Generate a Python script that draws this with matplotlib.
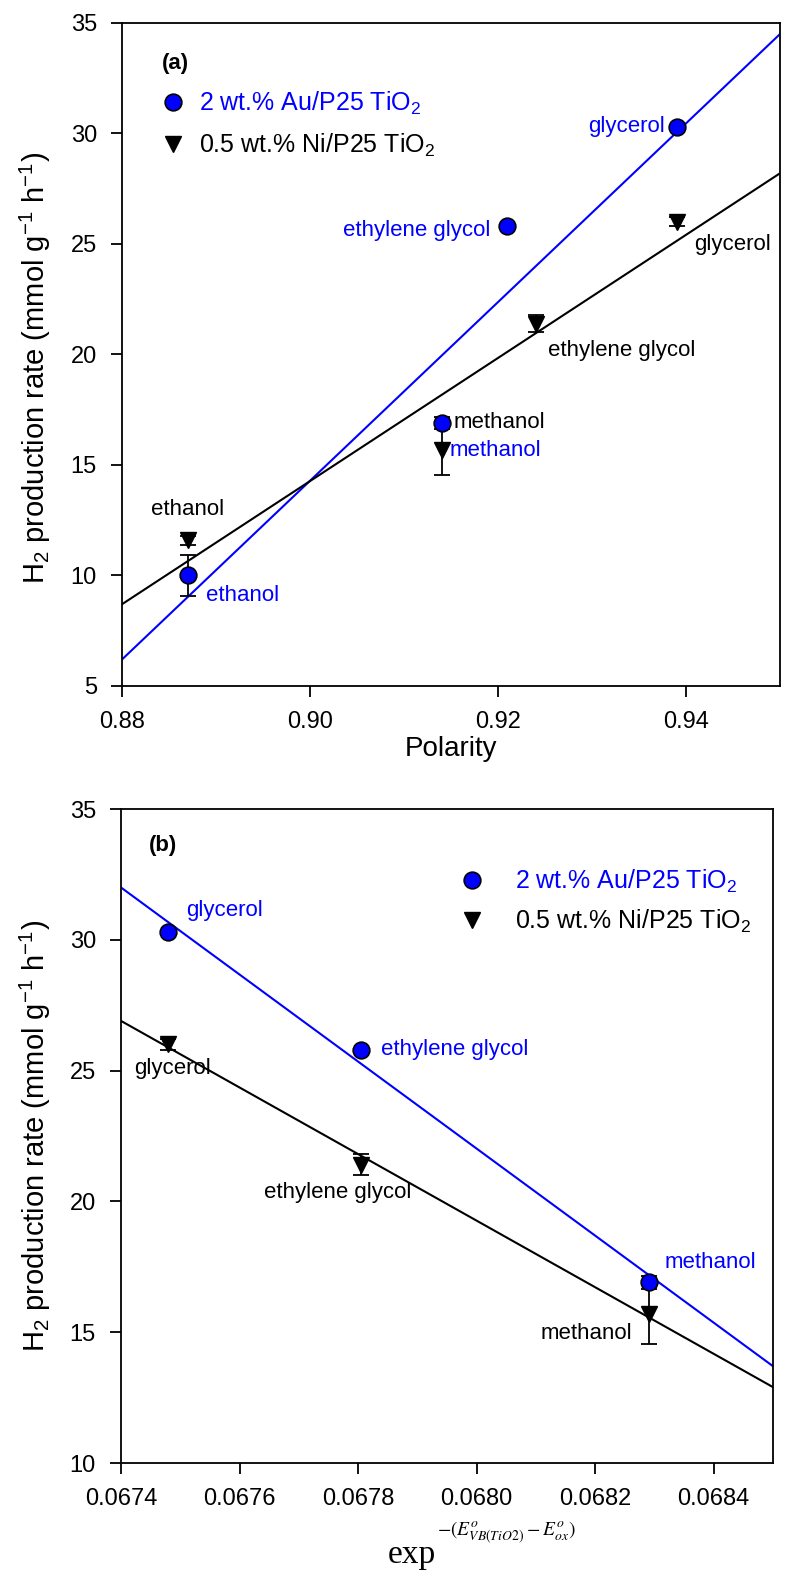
import numpy as np
import matplotlib
matplotlib.use('Agg')
import matplotlib.pyplot as plt

plt.rcParams['font.family'] = ['Liberation Sans', 'DejaVu Sans']
plt.rcParams['mathtext.fontset'] = 'custom'
plt.rcParams['mathtext.rm'] = 'Liberation Sans'
plt.rcParams['mathtext.it'] = 'Liberation Sans:italic'

solvents = ['ethanol', 'methanol', 'ethylene glycol', 'glycerol']

# panel (a): polarity
pol_au = [0.887, 0.914, 0.921, 0.939]
pol_ni = [0.887, 0.914, 0.924, 0.939]
rate_au = [10.0, 16.9, 25.8, 30.3]
rate_ni = [11.6, 15.7, 21.4, 26.0]
err_au = [0.95, 0.25, 0.0, 0.0]
err_ni = [0.2, 1.15, 0.4, 0.2]
fit_a_x = [0.88, 0.95]
fit_a_au = [6.2, 34.5]
fit_a_ni = [8.7, 28.2]

# panel (b): exp(-(E_VB - E_ox)), no ethanol
expo_b = [0.06748, 0.067805, 0.068290]
rate_au_b = [30.3, 25.8, 16.9]
rate_ni_b = [26.0, 21.4, 15.7]
err_au_b = [0.0, 0.0, 0.25]
err_ni_b = [0.2, 0.4, 1.15]
solv_b = ['glycerol', 'ethylene glycol', 'methanol']
fit_b_x = [0.0674, 0.0685]
fit_b_au = [32.0, 13.7]
fit_b_ni = [26.9, 12.9]

blue = '#0000ff'
label_au = '2 wt.% Au/P25 TiO$_2$'
label_ni = '0.5 wt.% Ni/P25 TiO$_2$'
ylab = 'H$_2$ production rate (mmol g$^{-1}$ h$^{-1}$)'

fig = plt.figure(figsize=(7.86, 15.76), dpi=100)
W, H = 786, 1576
ax1 = fig.add_axes([122/W, 1-686/H, (780-122)/W, (686-23)/H])
ax2 = fig.add_axes([121/W, 1-1463/H, (773-121)/W, (1463-809)/H])


def style(ax):
    for s in ax.spines.values():
        s.set_linewidth(1.3)
    ax.tick_params(direction='out', length=8, width=1.3, labelsize=17,
                   top=False, right=False, pad=10)


def draw(ax, x_au, x_ni, y_au, y_ni, e_au, e_ni):
    ax.errorbar(x_au, y_au, yerr=e_au, fmt='none', ecolor='black',
                elinewidth=1.3, capsize=6, capthick=1.3, zorder=3)
    ax.errorbar(x_ni, y_ni, yerr=e_ni, fmt='none', ecolor='black',
                elinewidth=1.3, capsize=6, capthick=1.3, zorder=3)
    h_au, = ax.plot(x_au, y_au, 'o', ms=12, mfc=blue, mec='black', mew=1.2,
                    zorder=4, label=label_au)
    h_ni, = ax.plot(x_ni, y_ni, 'v', ms=12, mfc='black', mec='black',
                    zorder=4, label=label_ni)
    return h_au, h_ni


def annotate(ax, names, xs, ys, offsets, color):
    for n, x, y, (dx, dy, ha) in zip(names, xs, ys, offsets):
        ax.annotate(n, (x, y), xytext=(dx, dy), textcoords='offset pixels',
                    ha=ha, va='center', fontsize=16, color=color)


# ---- panel (a)
style(ax1)
ax1.plot(fit_a_x, fit_a_au, color=blue, lw=1.5, zorder=2)
ax1.plot(fit_a_x, fit_a_ni, color='black', lw=1.5, zorder=2)
h_au, h_ni = draw(ax1, pol_au, pol_ni, rate_au, rate_ni, err_au, err_ni)
ax1.set_xlim(0.88, 0.95)
ax1.set_ylim(5, 35)
ax1.set_xticks([0.88, 0.90, 0.92, 0.94])
ax1.set_xticklabels(['0.88', '0.90', '0.92', '0.94'])
ax1.set_xlabel('Polarity', fontsize=20)
ax1.xaxis.set_label_coords(0.5, -0.075)
ax1.set_ylabel(ylab, fontsize=21)
ax1.yaxis.set_label_coords(-0.105, 0.48)
ax1.text(0.061, 0.93, '(a)', transform=ax1.transAxes, fontsize=16,
         fontweight='bold')
annotate(ax1, solvents, pol_au, rate_au,
         [(18, -20, 'left'), (8, -27, 'left'), (-17, -4, 'right'),
          (-12, 0, 'right')], blue)
annotate(ax1, solvents, pol_ni, rate_ni,
         [(0, 31, 'center'), (12, 27, 'left'), (12, -27, 'left'),
          (18, -23, 'left')], 'black')
leg = ax1.legend(handles=[h_au, h_ni], loc='upper left',
                 bbox_to_anchor=(0.028, 0.926), frameon=False, fontsize=18,
                 handletextpad=0.45, labelspacing=0.6, handlelength=1.2,
                 borderpad=0.2)
leg.get_texts()[0].set_color(blue)

# ---- panel (b)
style(ax2)
ax2.plot(fit_b_x, fit_b_au, color=blue, lw=1.5, zorder=2)
ax2.plot(fit_b_x, fit_b_ni, color='black', lw=1.5, zorder=2)
h_au, h_ni = draw(ax2, expo_b, expo_b, rate_au_b, rate_ni_b,
                  err_au_b, err_ni_b)
ax2.set_xlim(0.0674, 0.0685)
ax2.set_ylim(10, 35)
ax2.set_xticks([0.0674, 0.0676, 0.0678, 0.0680, 0.0682, 0.0684])
ax2.set_xticklabels(['0.0674', '0.0676', '0.0678', '0.0680', '0.0682',
                     '0.0684'])
ax2.set_ylabel(ylab, fontsize=21)
ax2.yaxis.set_label_coords(-0.105, 0.5)
ax2.text(0.042, 0.936, '(b)', transform=ax2.transAxes, fontsize=16,
         fontweight='bold')
ax2.text(0.483, -0.153, 'exp', transform=ax2.transAxes, fontsize=24,
         family='Liberation Serif', ha='right', va='baseline')
ax2.text(0.485, -0.110,
         r'$-(E^{o}_{VB(TiO2)}-E^{o}_{ox})$', transform=ax2.transAxes,
         fontsize=14, family='Liberation Serif', ha='left', va='baseline',
         math_fontfamily='stix')
annotate(ax2, solv_b, expo_b, rate_au_b,
         [(18, 21, 'left'), (20, 0, 'left'), (16, 20, 'left')], blue)
annotate(ax2, solv_b, expo_b, rate_ni_b,
         [(4, -24, 'center'), (-23, -28, 'center'), (-16, -20, 'right')],
         'black')
leg = ax2.legend(handles=[h_au, h_ni], loc='upper left',
                 bbox_to_anchor=(0.489, 0.937), frameon=False, fontsize=18,
                 handletextpad=1.1, labelspacing=0.5, handlelength=1.2,
                 borderpad=0.2)
leg.get_texts()[0].set_color(blue)

fig.savefig('out.png', dpi=100)
